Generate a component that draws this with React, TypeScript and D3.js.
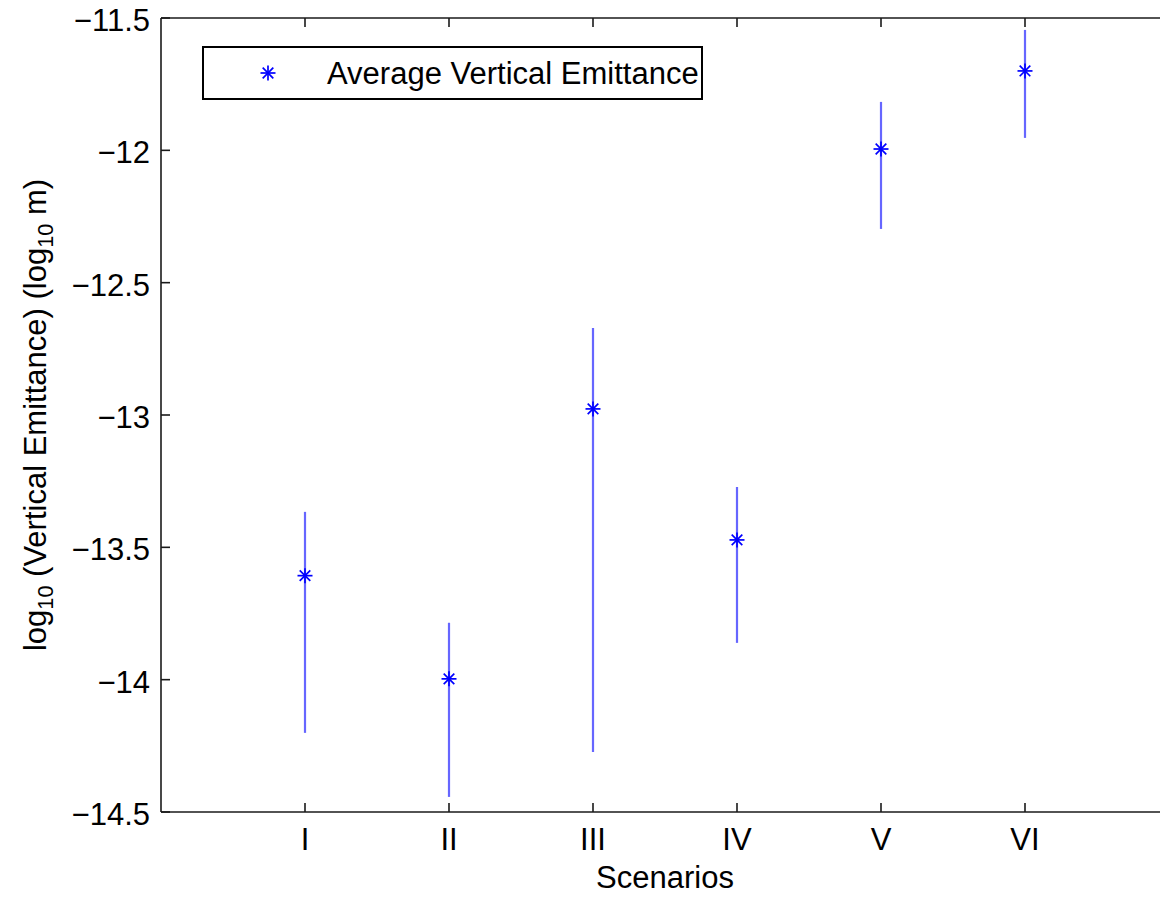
import React from "react";
import * as d3 from "d3";

const categories = ["I", "II", "III", "IV", "V", "VI"];
const means = [-13.607, -13.997, -12.977, -13.472, -11.995, -11.7];
const upper = [-13.366, -13.785, -12.671, -13.272, -11.817, -11.545];
const lower = [-14.201, -14.443, -14.273, -13.861, -12.297, -11.953];
const yTicks = [-11.5, -12, -12.5, -13, -13.5, -14, -14.5];
const yTickLabels = ["\u221211.5", "\u221212", "\u221212.5", "\u221213", "\u221213.5", "\u221214", "\u221214.5"];

const W = 1160;
const H = 899;
const M = { left: 161, right: 1169, top: 18, bottom: 812 };
const FONT = "'Liberation Sans', Arial, Helvetica, sans-serif";

function Star({ cx, cy, r }: { cx: number; cy: number; r: number }) {
  const d = r * Math.SQRT1_2;
  return (
    <g stroke="#0000ff" strokeWidth={1.7}>
      <line x1={cx - r} y1={cy} x2={cx + r} y2={cy} />
      <line x1={cx} y1={cy - r} x2={cx} y2={cy + r} />
      <line x1={cx - d} y1={cy - d} x2={cx + d} y2={cy + d} />
      <line x1={cx - d} y1={cy + d} x2={cx + d} y2={cy - d} />
    </g>
  );
}

export default function App() {
  const x = d3.scaleLinear().domain([0, 7]).range([M.left, M.right]);
  const y = d3.scaleLinear().domain([-14.5, -11.5]).range([M.bottom, M.top]);
  const tickLen = 9;
  const fs = 31;

  return (
    <svg width={W} height={H} style={{ position: "absolute", left: 0, top: 0, background: "#fff", overflow: "hidden" }}>
      <rect x={0} y={0} width={W} height={H} fill="#fff" />
      {/* error bars */}
      {categories.map((c, i) => (
        <line
          key={"e" + c}
          x1={x(i + 1)}
          x2={x(i + 1)}
          y1={y(upper[i])}
          y2={y(lower[i])}
          stroke="#6666ff"
          strokeWidth={2.2}
        />
      ))}
      {/* markers */}
      {categories.map((c, i) => (
        <Star key={"m" + c} cx={x(i + 1)} cy={y(means[i])} r={7.5} />
      ))}
      {/* axes (right edge lies outside the picture) */}
      <g stroke="#1a1a1a" strokeWidth={1.6} fill="none">
        <line x1={M.left} y1={M.top} x2={W} y2={M.top} />
        <line x1={M.left} y1={M.bottom} x2={W} y2={M.bottom} />
        <line x1={M.left} y1={M.top} x2={M.left} y2={M.bottom} />
        {yTicks.map((t) => (
          <g key={"yt" + t}>
            <line x1={M.left} x2={M.left + tickLen} y1={y(t)} y2={y(t)} />
            <line x1={M.right} x2={M.right - tickLen} y1={y(t)} y2={y(t)} />
          </g>
        ))}
        {categories.map((c, i) => (
          <g key={"xt" + c}>
            <line x1={x(i + 1)} x2={x(i + 1)} y1={M.bottom} y2={M.bottom - tickLen} />
            <line x1={x(i + 1)} x2={x(i + 1)} y1={M.top} y2={M.top + tickLen} />
          </g>
        ))}
      </g>
      {/* y tick labels */}
      <g fontFamily={FONT} fontSize={fs} fill="#000" textAnchor="end">
        {yTicks.map((t, i) => (
          <text key={"yl" + t} x={M.left - 11} y={y(t) + 13}>
            {yTickLabels[i]}
          </text>
        ))}
      </g>
      {/* x tick labels */}
      <g fontFamily={FONT} fontSize={fs} fill="#000" textAnchor="middle">
        {categories.map((c, i) => (
          <text key={"xl" + c} x={x(i + 1)} y={M.bottom + 38}>
            {c}
          </text>
        ))}
      </g>
      {/* x label */}
      <text x={(M.left + M.right) / 2} y={888} fontFamily={FONT} fontSize={fs} textAnchor="middle" fill="#000">
        Scenarios
      </text>
      {/* y label */}
      <text
        transform={`translate(46, ${(M.top + M.bottom) / 2}) rotate(-90)`}
        fontFamily={FONT}
        fontSize={fs}
        textAnchor="middle"
        fill="#000"
      >
        log
        <tspan fontSize={fs * 0.7} dy={7}>10</tspan>
        <tspan dy={-7}> (Vertical Emittance) (log</tspan>
        <tspan fontSize={fs * 0.7} dy={7}>10</tspan>
        <tspan dy={-7}> m)</tspan>
      </text>
      {/* legend */}
      <rect x={203} y={47} width={499} height={52} fill="#fff" stroke="#000" strokeWidth={2} />
      <Star cx={268} cy={73} r={7.5} />
      <text x={327} y={84} fontFamily={FONT} fontSize={fs} fill="#000">
        Average Vertical Emittance
      </text>
    </svg>
  );
}
